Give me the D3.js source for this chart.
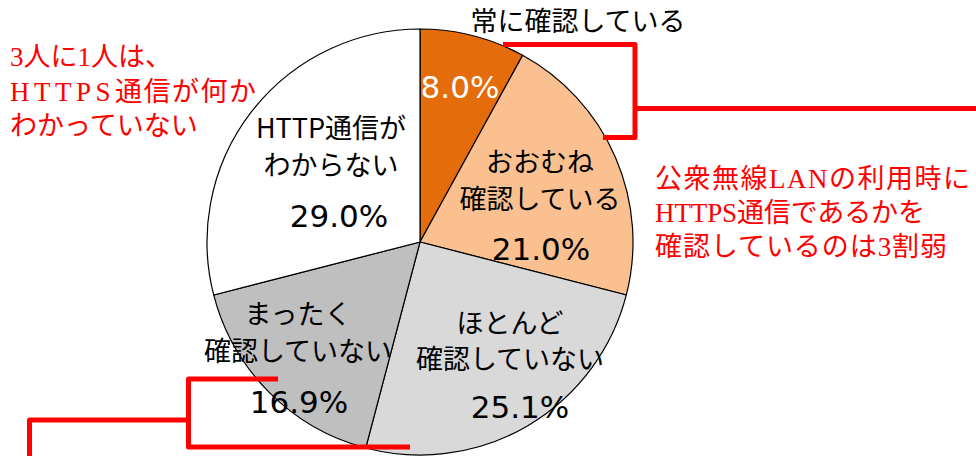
<!DOCTYPE html>
<html>
<head>
<meta charset="utf-8">
<script src="https://cdn.jsdelivr.net/npm/d3@7"></script>
<style>
  body { margin: 0; background: #fff; }
  svg { display: block; }
</style>
</head>
<body>
<div class="chart"></div>
<script>
// chart data
var categories = ["常に確認している", "おおむね確認している", "ほとんど確認していない", "まったく確認していない", "HTTP通信がわからない"];
var values = [8.0, 21.0, 25.1, 16.9, 29.0];
var labelLines = [
  ["常に確認している"],
  ["おおむね", "確認している"],
  ["ほとんど", "確認していない"],
  ["まったく", "確認していない"],
  ["HTTP通信が", "わからない"]
];
// notes split into runs so the latin part can be spaced like the original
var noteLeft = [
  [["3人に1人は、", 0]],
  [["HTTPS", 4.5], ["通信が何か", 1.5]],
  [["わかっていない", 0]]
];
var noteRight = ["公衆無線LANの利用時に", "HTTPS通信であるかを", "確認しているのは3割弱"];

var svgWidth = 976;
var svgHeight = 456;
var cx = 420, cy = 242, radius = 213;

var colors = ["#E46C0A", "#FAC090", "#D9D9D9", "#BFBFBF", "#FFFFFF"];

// label layout, relative to the pie centre: text x, line baselines, percent position
var labelLayout = [
  { x: 158, ys: [-211], px: 40, py: -144, pfill: "#fff" },
  { x: 120, ys: [-70, -33], px: 121, py: 18, pfill: "#000" },
  { x: 90, ys: [91, 127], px: 100, py: 176, pfill: "#000" },
  { x: -122, ys: [82, 119], px: -121, py: 171, pfill: "#000" },
  { x: -89, ys: [-104, -67], px: -81, py: -15, pfill: "#000" }
];

var svg = d3.select(".chart")
  .append("svg")
  .attr("width", svgWidth)
  .attr("height", svgHeight);

// red note on the left sits behind the pie
var leftNote = svg.append("g")
  .attr("fill", "#FF0000")
  .attr("font-family", "'Liberation Serif', 'Noto Sans CJK JP', serif")
  .attr("font-size", 27);
noteLeft.forEach(function(runs, i) {
  var t = leftNote.append("text")
    .attr("x", 10)
    .attr("y", 66 + i * 34.5);
  runs.forEach(function(r) {
    t.append("tspan")
      .attr("letter-spacing", r[1])
      .text(r[0]);
  });
});

var pie = d3.pie().sort(null).value(d => d);
var arc = d3.arc().innerRadius(0).outerRadius(radius);

var pieGroup = svg.append("g")
  .attr("transform", `translate(${cx}, ${cy})`);

pieGroup.selectAll("path")
  .data(pie(values))
  .enter()
  .append("path")
  .attr("d", arc)
  .attr("fill", (d, i) => colors[i])
  .attr("stroke", "#000")
  .attr("stroke-width", 1.2);

// category labels
var fmt = d3.format(".1f");
labelLines.forEach(function(lines, i) {
  var lay = labelLayout[i];
  lines.forEach(function(t, j) {
    pieGroup.append("text")
      .attr("x", lay.x)
      .attr("y", lay.ys[j])
      .attr("text-anchor", "middle")
      .attr("font-family", "'Noto Sans CJK JP', 'Noto Sans', sans-serif")
      .attr("font-size", 27)
      .attr("fill", "#000")
      .text(t);
  });
  pieGroup.append("text")
    .attr("x", lay.px)
    .attr("y", lay.py)
    .attr("text-anchor", "middle")
    .attr("font-family", "'DejaVu Sans', sans-serif")
    .attr("font-size", 31)
    .attr("fill", lay.pfill)
    .text(fmt(values[i]) + "%");
});

// red brackets
var bracket = svg.append("g")
  .attr("fill", "none")
  .attr("stroke", "#FF0000")
  .attr("stroke-width", 5)
  .attr("stroke-linejoin", "round");

bracket.append("path").attr("d", "M503,44.5 H635 V137.5 H603");
bracket.append("path").attr("d", "M635,108.5 H976");
bracket.append("path").attr("d", "M278,379 H188.5 V447 H410");
bracket.append("path").attr("d", "M188.5,420 H29.5 V460");

// red note on the right
var rightNote = svg.append("g")
  .attr("fill", "#FF0000")
  .attr("font-family", "'Liberation Serif', 'Noto Sans CJK JP', serif")
  .attr("font-size", 27);
var rightWidths = [315, 270, 292];
noteRight.forEach(function(t, i) {
  rightNote.append("text")
    .attr("x", 655)
    .attr("y", 188 + i * 34)
    .attr("textLength", rightWidths[i])
    .attr("lengthAdjust", "spacing")
    .text(t);
});
</script>
</body>
</html>
